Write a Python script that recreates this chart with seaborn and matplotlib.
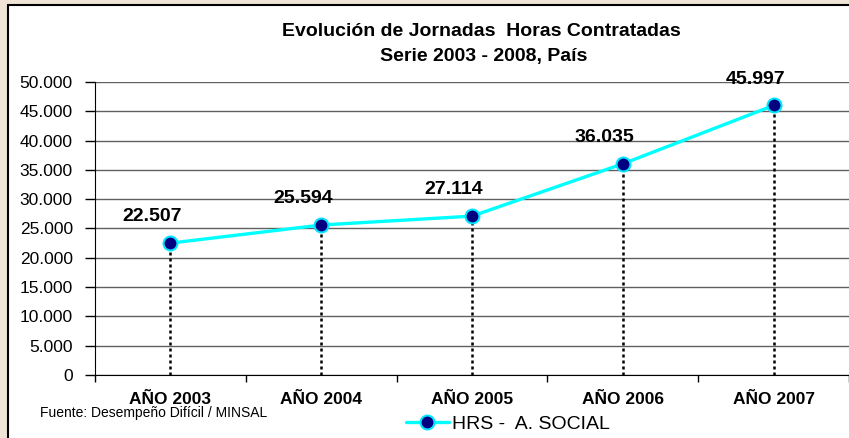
import pandas as pd
import matplotlib.pyplot as plt
import seaborn as sns
from matplotlib.patches import Rectangle

# datos del grafico
anios = ['AÑO 2003', 'AÑO 2004', 'AÑO 2005', 'AÑO 2006', 'AÑO 2007']
horas = [22507, 25594, 27114, 36035, 45997]
etiquetas = ['22.507', '25.594', '27.114', '36.035', '45.997']
y_ticks = [0, 5000, 10000, 15000, 20000, 25000, 30000, 35000, 40000, 45000, 50000]
y_labels = ['0', '5.000', '10.000', '15.000', '20.000', '25.000', '30.000',
            '35.000', '40.000', '45.000', '50.000']

df = pd.DataFrame({'anio': anios, 'horas': horas})

sns.set_style('white')
plt.rcParams['font.family'] = ['Liberation Sans', 'DejaVu Sans']
plt.rcParams['text.color'] = 'black'
plt.rcParams['xtick.color'] = 'black'
plt.rcParams['ytick.color'] = 'black'

fig = plt.figure(figsize=(8.49, 4.38), dpi=100, facecolor='#efe4d6')

# marco blanco del grafico
marco = Rectangle((8 / 849, -0.05), 1.0, 1 - 5 / 438 + 0.05,
                  transform=fig.transFigure, facecolor='white',
                  edgecolor='black', linewidth=1.5, zorder=-5)
fig.add_artist(marco)

ax = fig.add_axes([95 / 849, 1 - 375 / 438, 1 - 95 / 849, (375 - 82) / 438])
ax.set_facecolor('none')
ax.set_zorder(1)

# lineas verticales punteadas
for i, v in enumerate(horas):
    ax.plot([i, i], [0, v], color='black', linestyle=(0, (1.2, 1.2)), linewidth=1.8, zorder=2)

sns.lineplot(data=df, x='anio', y='horas', ax=ax, sort=False, color='#00ffff',
             linewidth=2.4, marker='o', markersize=10, markerfacecolor='#000080',
             markeredgecolor='#00e5ff', markeredgewidth=1.5, label='HRS -  A. SOCIAL',
             zorder=3)

for i, (v, t) in enumerate(zip(horas, etiquetas)):
    ax.annotate(t, (i, v), xytext=(-13, 19), textcoords='offset points',
                ha='center', va='center', fontsize=14, fontweight='bold')

ax.set_ylim(0, 50000)
ax.set_xlim(-0.5, 4.5)
ax.set_yticks(y_ticks)
ax.set_yticklabels(y_labels, fontsize=12.5)
ax.grid(axis='y', color='#606060', linewidth=1)
ax.set_axisbelow(True)

ax.set_xticks(range(len(anios)))
ax.set_xticklabels(anios, fontsize=12.5, fontweight='bold')
ax.set_xticks([i - 0.5 for i in range(len(anios) + 1)], minor=True)
ax.tick_params(axis='x', which='major', length=0, pad=12)
ax.tick_params(axis='x', which='minor', length=5, width=1, direction='out', color='black', bottom=True)
ax.tick_params(axis='y', length=7, width=1, direction='out', color='black', left=True, pad=9)

ax.set_xlabel('')
ax.set_ylabel('')
for s in ['top', 'right']:
    ax.spines[s].set_visible(False)
ax.spines['left'].set_color('black')
ax.spines['bottom'].set_color('black')

ax.get_legend().remove()
h, l = ax.get_legend_handles_labels()
fig.legend(h, l, loc='center left', bbox_to_anchor=(406 / 849, 1 - 424 / 438),
           frameon=False, fontsize=14, handlelength=2.2, handletextpad=0.15,
           borderaxespad=0, borderpad=0)

fig.text(481 / 849, 1 - 32 / 438, 'Evolución de Jornadas  Horas Contratadas',
         ha='center', va='center', fontsize=14, fontweight='bold')
fig.text(484 / 849, 1 - 56 / 438, 'Serie 2003 - 2008, País',
         ha='center', va='center', fontsize=14, fontweight='bold')
fig.text(40 / 849, 1 - 413 / 438, 'Fuente: Desempeño Difícil / MINSAL',
         ha='left', va='center', fontsize=10)

fig.savefig('out.png', dpi=100, facecolor=fig.get_facecolor())
